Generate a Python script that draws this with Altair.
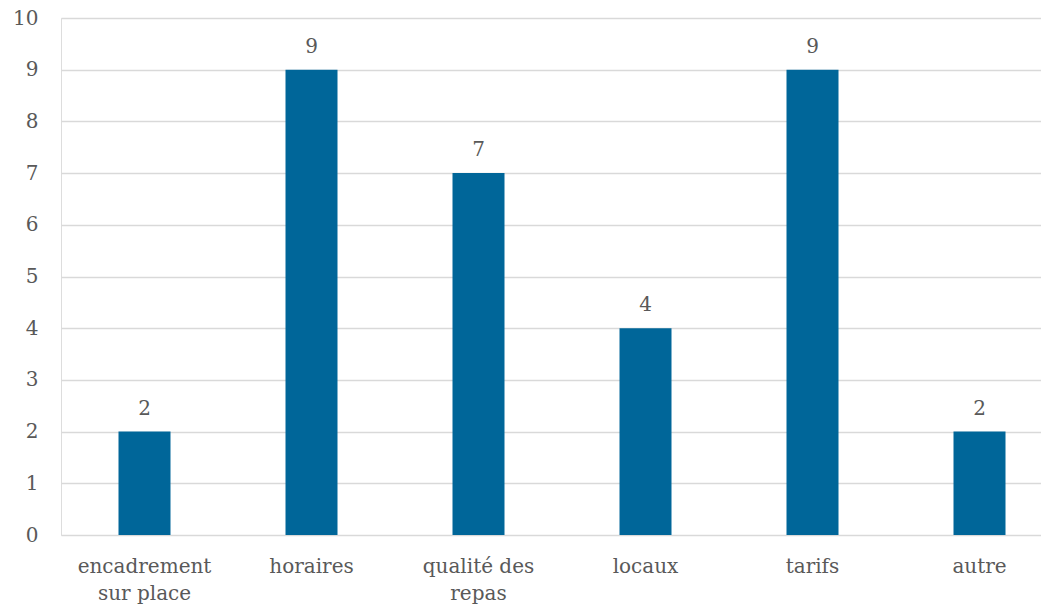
import altair as alt
import pandas as pd

categories = ["encadrement\nsur place", "horaires", "qualité des\nrepas", "locaux", "tarifs", "autre"]
values = [2, 9, 7, 4, 9, 2]

df = pd.DataFrame({"cat": categories, "val": values})

FONT = "DejaVu Serif"
TXT = "#595959"

x = alt.X("cat:N", sort=categories, title=None,
          scale=alt.Scale(range=[0, 1002], paddingInner=0, paddingOuter=0),
          axis=alt.Axis(labelAngle=0, labelExpr="split(datum.label, '\\n')",
                        labelFont=FONT, labelFontSize=20, labelColor=TXT,
                        labelPadding=21, labelLineHeight=27, ticks=False, domain=False,
                        labelBaseline="top"))
y = alt.Y("val:Q", title=None,
          scale=alt.Scale(domain=[0, 10], nice=False),
          axis=alt.Axis(values=list(range(0, 11)), labelFont=FONT, labelFontSize=20,
                        labelColor=TXT, labelPadding=23, ticks=False, domain=False,
                        gridColor="#d9d9d9", gridWidth=1.5))

bars = alt.Chart(df).mark_bar(size=52, color="#006699").encode(x=x, y=y)
labels = alt.Chart(df).mark_text(dy=-17, baseline="alphabetic", font=FONT, fontSize=20,
                                 color=TXT).encode(x=x, y=y, text="val:Q")

chart = (bars + labels).properties(
    width=980, height=517,
    autosize=alt.AutoSizeParams(type="none"),
    padding={"left": 53, "top": 10, "right": 0, "bottom": 70},
).configure_view(strokeWidth=0).configure(background="white")

chart.save("out.html", embed_options={"renderer": "svg", "actions": False})
